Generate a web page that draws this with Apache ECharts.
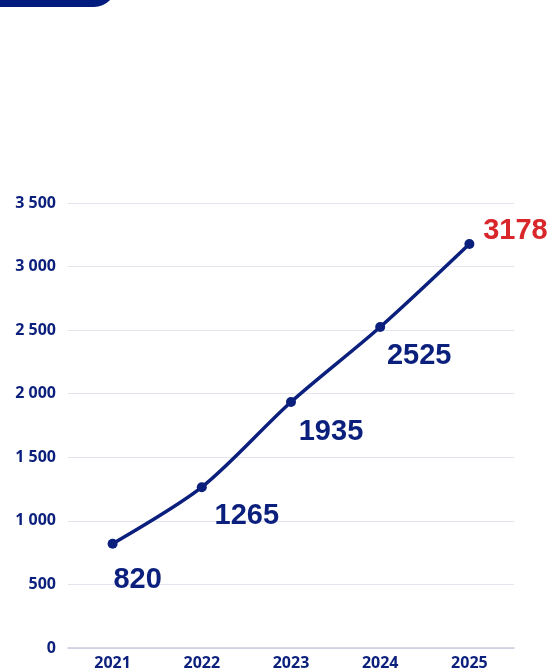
<!DOCTYPE html>
<html>
<head>
<meta charset="utf-8">
<script src="https://cdn.jsdelivr.net/npm/echarts@6/dist/echarts.min.js"></script>
<style>
  html, body { margin: 0; padding: 0; background: #fff; }
  #main { width: 549px; height: 672px; }
</style>
</head>
<body>
<div id="main"></div>
<script>
const years = ['2021', '2022', '2023', '2024', '2025'];
const values = [820, 1265, 1935, 2525, 3178];
const labelOffsets = [[25, 36], [45, 29], [40, 30], [39, 29], [46, -13]];

const navy = '#0b1f7c';
const chart = echarts.init(document.getElementById('main'));
chart.setOption({
  animation: false,
  graphic: [
    {
      type: 'rect',
      shape: { x: -30, y: -40, width: 146, height: 47, r: 22 },
      style: { fill: '#021b7e' },
    },
  ],
  grid: { left: 68, right: 35, top: 203, bottom: 24, containLabel: false },
  xAxis: {
    type: 'category',
    data: years,
    axisTick: { show: false },
    axisLine: { lineStyle: { color: '#c9cbe0', width: 1.5 } },
    axisLabel: {
      margin: 7,
      color: navy,
      fontFamily: 'Open Sans',
      fontWeight: 'bold',
      fontSize: 16,
    },
  },
  yAxis: {
    type: 'value',
    min: 0,
    max: 3500,
    interval: 500,
    axisLabel: {
      margin: 12,
      color: navy,
      fontFamily: 'Open Sans',
      fontWeight: 'bold',
      fontSize: 16,
      formatter(v) {
        return String(v).replace(/\B(?=(\d{3})+(?!\d))/g, ' ');
      },
    },
    splitLine: { lineStyle: { color: '#e3e4ee', width: 1 } },
  },
  series: [
    {
      type: 'line',
      smooth: 0.3,
      data: values.map((v, i) => ({
        value: v,
        label: {
          offset: labelOffsets[i],
          color: i === values.length - 1 ? '#d8262a' : navy,
        },
      })),
      symbol: 'circle',
      symbolSize: 10,
      lineStyle: { color: navy, width: 3.5 },
      itemStyle: { color: navy },
      label: {
        show: true,
        position: 'inside',
        align: 'center',
        verticalAlign: 'middle',
        fontFamily: '"Liberation Sans", Arial, sans-serif',
        fontWeight: 'bold',
        fontSize: 29,
      },
    },
  ],
});
</script>
</body>
</html>
